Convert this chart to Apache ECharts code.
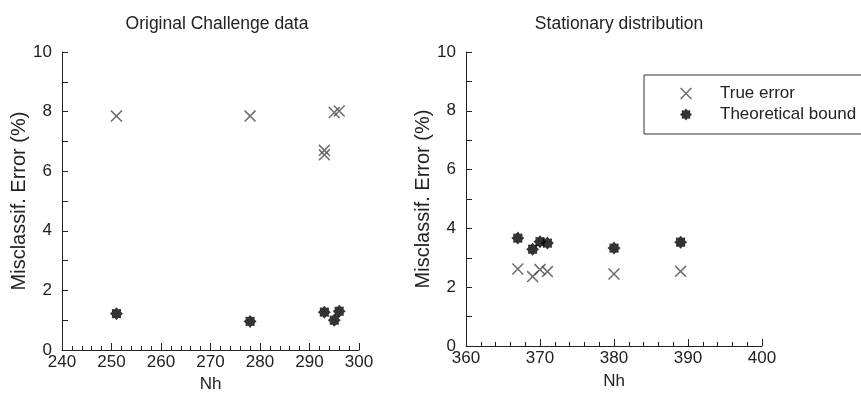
<!DOCTYPE html>
<html>
<head>
<meta charset="utf-8">
<script src="https://cdn.jsdelivr.net/npm/echarts@6/dist/echarts.min.js"></script>
<style>html,body{margin:0;padding:0;background:#fff;}#c{width:861px;height:400px;}</style>
</head>
<body>
<div id="c"></div>
<script>
// ---- data ----
const leftTitle = 'Original Challenge data';
const rightTitle = 'Stationary distribution';
const seriesNames = ['True error', 'Theoretical bound'];
const leftNhTrue = [251, 278, 293, 293, 295, 296];
const leftTrue = [7.85, 7.85, 6.7, 6.55, 7.97, 8.02];
const leftNhBound = [251, 278, 293, 295, 296];
const leftBound = [1.22, 0.96, 1.27, 1.0, 1.3];
const rightNh = [367, 369, 370, 371, 380, 389];
const rightTrue = [2.62, 2.36, 2.6, 2.53, 2.45, 2.54];
const rightBound = [3.67, 3.29, 3.55, 3.5, 3.33, 3.53];
const xName = 'Nh';
const yName = 'Misclassif. Error (%)';

// ---- marker shapes ----
const t = 9;
const xPath = 'path://M0,' + t + 'L' + t + ',0L100,' + (100 - t) + 'L' + (100 - t) + ',100Z' +
  'M' + (100 - t) + ',0L100,' + t + 'L' + t + ',100L0,' + (100 - t) + 'Z';
function starPath(n, ro, ri) {
  let s = 'path://';
  for (let i = 0; i < 2 * n; i++) {
    const r = i % 2 === 0 ? ro : ri;
    const a = Math.PI * i / n - Math.PI / 2;
    s += (i === 0 ? 'M' : 'L') + (50 + r * Math.cos(a)).toFixed(2) + ',' + (50 + r * Math.sin(a)).toFixed(2);
  }
  return s + 'Z';
}
const starP = starPath(8, 50, 37);

const pairs = (xs, ys) => xs.map((x, i) => [x, ys[i]]);
const font = 'Liberation Sans, Arial, sans-serif';
const txt = '#222';

function xAxisCfg(idx, min, max, gap) {
  return {
    gridIndex: idx, type: 'value', min: min, max: max, interval: 10,
    name: xName, nameLocation: 'middle', nameGap: gap,
    nameTextStyle: {fontFamily: font, fontSize: 17, color: txt},
    axisLine: {show: true, lineStyle: {color: '#222', width: 1}},
    axisTick: {show: true, inside: true, length: 7, lineStyle: {color: '#222'}},
    minorTick: {show: true, splitNumber: 5, length: 4, lineStyle: {color: '#222'}},
    axisLabel: {fontFamily: font, fontSize: 17, color: txt, margin: 4},
    splitLine: {show: false}
  };
}
function yAxisCfg(idx) {
  return {
    gridIndex: idx, type: 'value', min: 0, max: 10, interval: 2,
    name: yName, nameLocation: 'middle', nameGap: 31, nameRotate: 90,
    nameTextStyle: {fontFamily: font, fontSize: 20, color: txt},
    axisLine: {show: true, lineStyle: {color: '#222', width: 1}},
    axisTick: {show: true, inside: true, length: 6, lineStyle: {color: '#222'}},
    minorTick: {show: true, splitNumber: 2, length: 6, lineStyle: {color: '#222'}},
    axisLabel: {fontFamily: font, fontSize: 17, color: txt, margin: 10},
    splitLine: {show: false}
  };
}
const xStyle = {color: '#4a4a4a', borderWidth: 0};
const sStyle = {color: '#000', borderWidth: 0};

const chart = echarts.init(document.getElementById('c'), null, {renderer: 'canvas'});
chart.setOption({
  animation: false,
  backgroundColor: '#fff',
  title: [
    {text: leftTitle, left: 212, top: 10, textAlign: 'center',
     textStyle: {fontFamily: font, fontSize: 17.5, fontWeight: 'normal', color: txt}},
    {text: rightTitle, left: 614, top: 10, textAlign: 'center',
     textStyle: {fontFamily: font, fontSize: 17.5, fontWeight: 'normal', color: txt}}
  ],
  grid: [
    {left: 62, right: 502, top: 52, bottom: 50},
    {left: 466, right: 99, top: 52, bottom: 54}
  ],
  xAxis: [xAxisCfg(0, 240, 300, 24), xAxisCfg(1, 360, 400, 27)],
  yAxis: [yAxisCfg(0), yAxisCfg(1)],
  legend: {
    orient: 'vertical', left: 644, top: 75,
    padding: [10, 40, 11, 36], itemGap: 4,
    itemWidth: 58, itemHeight: 12,
    borderColor: '#333', borderWidth: 1,
    textStyle: {fontFamily: font, fontSize: 17, color: txt},
    data: [
      {name: seriesNames[0], icon: xPath, itemStyle: xStyle},
      {name: seriesNames[1], icon: starP, itemStyle: sStyle}
    ]
  },
  series: [
    {type: 'scatter', name: seriesNames[0], xAxisIndex: 0, yAxisIndex: 0,
     symbol: xPath, symbolSize: 12, itemStyle: xStyle, data: pairs(leftNhTrue, leftTrue)},
    {type: 'scatter', name: seriesNames[1], xAxisIndex: 0, yAxisIndex: 0,
     symbol: starP, symbolSize: 13, itemStyle: sStyle, data: pairs(leftNhBound, leftBound)},
    {type: 'scatter', name: seriesNames[0], xAxisIndex: 1, yAxisIndex: 1,
     symbol: xPath, symbolSize: 12, itemStyle: xStyle, data: pairs(rightNh, rightTrue)},
    {type: 'scatter', name: seriesNames[1], xAxisIndex: 1, yAxisIndex: 1,
     symbol: starP, symbolSize: 13, itemStyle: sStyle, data: pairs(rightNh, rightBound)}
  ]
});
</script>
</body>
</html>
